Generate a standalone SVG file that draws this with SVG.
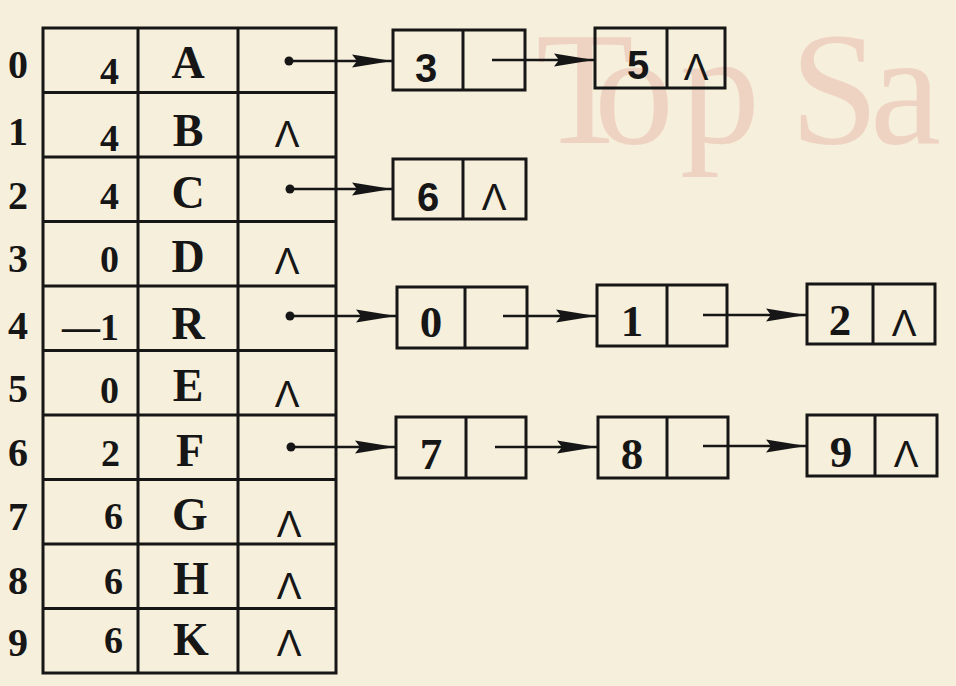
<svg xmlns="http://www.w3.org/2000/svg" width="956" height="686" viewBox="0 0 956 686">
<defs>
<style>
.bg{fill:#f6efdb}
.wm{font-family:"Liberation Serif",serif;font-size:160px;fill:#efd3c2}
.ln{stroke:#161616;stroke-width:3;fill:none}
.box{fill:none;stroke:#161616;stroke-width:3}
.idx{font-family:"Liberation Serif",serif;font-weight:bold;font-size:40px;fill:#161616;text-anchor:middle}
.num{font-family:"Liberation Serif",serif;font-weight:bold;font-size:38px;fill:#161616;text-anchor:end}
.let{font-family:"Liberation Serif",serif;font-weight:bold;font-size:46px;fill:#161616;text-anchor:middle}
.nil{font-family:"Liberation Sans",sans-serif;font-size:37px;fill:#161616;text-anchor:middle}
.nd{font-family:"Liberation Serif",serif;font-weight:bold;font-size:45px;fill:#161616;text-anchor:middle}
.nds{font-family:"Liberation Sans",sans-serif;font-weight:bold;font-size:40px;fill:#161616;text-anchor:middle}
.arr{stroke:#161616;stroke-width:2.5;fill:none;marker-end:url(#ah)}
.dot{fill:#161616}
</style>
<marker id="ah" viewBox="-42 -8 44 16" markerWidth="44" markerHeight="16" refX="0" refY="0" markerUnits="userSpaceOnUse" orient="auto">
<path d="M-40,-6.5 L0,0 L-40,6.5 L-35,0 z" fill="#161616"/>
</marker>
</defs>
<rect class="bg" x="0" y="0" width="956" height="686"/>
<text class="wm" x="536 594 680 790 870" y="143">TopSa</text>

<g id="table">
<rect class="box" x="43" y="28" width="293" height="645"/>
<path class="ln" d="M138,28V673 M238,28V673 M43,92.5H336 M43,157H336 M43,221.5H336 M43,286H336 M43,350.5H336 M43,415H336 M43,479.5H336 M43,544H336 M43,608.5H336"/>
</g>

<g id="row0"><text class="idx" x="18" y="78">0</text><text class="num" x="119" y="84">4</text><text class="let" x="188" y="78">A</text></g>
<g id="row1"><text class="idx" x="18" y="145">1</text><text class="num" x="119" y="151">4</text><text class="let" x="188" y="146">B</text><text class="nil" x="287" y="147">Λ</text></g>
<g id="row2"><text class="idx" x="18" y="209">2</text><text class="num" x="119" y="209">4</text><text class="let" x="188" y="208">C</text></g>
<g id="row3"><text class="idx" x="18" y="272">3</text><text class="num" x="119" y="272">0</text><text class="let" x="188" y="272">D</text><text class="nil" x="287" y="274">Λ</text></g>
<g id="row4"><text class="idx" x="18" y="339">4</text><text class="num" x="119" y="340">—1</text><text class="let" x="188" y="339">R</text></g>
<g id="row5"><text class="idx" x="18" y="402">5</text><text class="num" x="119" y="403">0</text><text class="let" x="188" y="401">E</text><text class="nil" x="287" y="407">Λ</text></g>
<g id="row6"><text class="idx" x="18" y="466">6</text><text class="num" x="120" y="466">2</text><text class="let" x="190" y="466">F</text></g>
<g id="row7"><text class="idx" x="18" y="530">7</text><text class="num" x="123" y="529">6</text><text class="let" x="190" y="530">G</text><text class="nil" x="289" y="537">Λ</text></g>
<g id="row8"><text class="idx" x="18" y="594">8</text><text class="num" x="123" y="594">6</text><text class="let" x="191" y="594">H</text><text class="nil" x="289" y="599">Λ</text></g>
<g id="row9"><text class="idx" x="18" y="656">9</text><text class="num" x="123" y="653">6</text><text class="let" x="191" y="655">K</text><text class="nil" x="289" y="656">Λ</text></g>

<g id="n3"><rect class="box" x="393" y="30" width="132" height="60"/><path class="ln" d="M463,30V90"/><text class="nds" x="426" y="82">3</text></g>
<g id="n5"><rect class="box" x="595" y="28" width="130" height="60"/><path class="ln" d="M667,28V88"/><text class="nds" x="638" y="79" font-weight="normal">5</text><text class="nil" x="696" y="80">Λ</text></g>
<g id="n6"><rect class="box" x="393" y="159" width="133" height="60"/><path class="ln" d="M463,159V219"/><text class="nds" x="428" y="211">6</text><text class="nil" x="494" y="210">Λ</text></g>
<g id="n0"><rect class="box" x="397" y="287" width="130" height="61"/><path class="ln" d="M465,287V348"/><text class="nd" x="431" y="337">0</text></g>
<g id="n1"><rect class="box" x="597" y="285" width="130" height="61"/><path class="ln" d="M667,285V346"/><text class="nd" x="632" y="336">1</text></g>
<g id="n2"><rect class="box" x="807" y="284" width="128" height="60"/><path class="ln" d="M873,284V344"/><text class="nd" x="840" y="335">2</text><text class="nil" x="904" y="336">Λ</text></g>
<g id="n7"><rect class="box" x="396" y="417" width="130" height="61"/><path class="ln" d="M466,417V478"/><text class="nd" x="431" y="469">7</text></g>
<g id="n8"><rect class="box" x="598" y="417" width="130" height="61"/><path class="ln" d="M667,417V478"/><text class="nd" x="632" y="469">8</text></g>
<g id="n9"><rect class="box" x="807" y="415" width="130" height="61"/><path class="ln" d="M875,415V476"/><text class="nd" x="841" y="467">9</text><text class="nil" x="906" y="467">Λ</text></g>

<g id="connectors">
<circle class="dot" cx="289" cy="61" r="4.5"/><path class="arr" d="M289,61H392"/>
<path class="arr" d="M492,60H594"/>
<circle class="dot" cx="290" cy="189" r="4.5"/><path class="arr" d="M290,189H392"/>
<circle class="dot" cx="290" cy="316" r="4.5"/><path class="arr" d="M290,316H396"/>
<path class="arr" d="M503,316H596"/>
<path class="arr" d="M703,315H806"/>
<circle class="dot" cx="291" cy="447" r="4.5"/><path class="arr" d="M291,447H395"/>
<path class="arr" d="M495,447H597"/>
<path class="arr" d="M703,446H806"/>
</g>
</svg>
